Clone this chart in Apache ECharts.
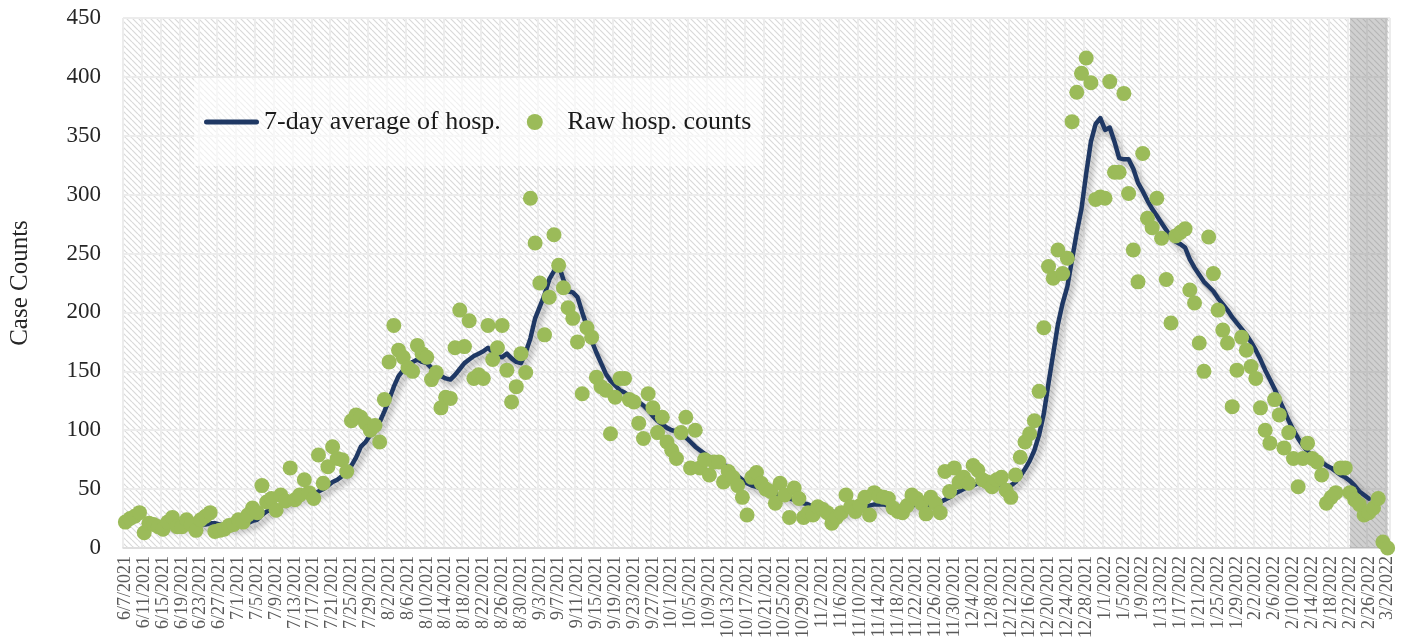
<!DOCTYPE html>
<html><head><meta charset="utf-8">
<script src="https://cdn.jsdelivr.net/npm/echarts@6/dist/echarts.min.js"></script>
<style>html,body{margin:0;padding:0;background:#fff}#c{width:1403px;height:644px}</style>
</head><body><div id="c"></div>
<script>
const categories = [
"6/7/2021","6/8/2021","6/9/2021","6/10/2021","6/11/2021","6/12/2021","6/13/2021","6/14/2021","6/15/2021","6/16/2021","6/17/2021","6/18/2021","6/19/2021","6/20/2021","6/21/2021","6/22/2021","6/23/2021","6/24/2021","6/25/2021","6/26/2021","6/27/2021","6/28/2021","6/29/2021","6/30/2021",
"7/1/2021","7/2/2021","7/3/2021","7/4/2021","7/5/2021","7/6/2021","7/7/2021","7/8/2021","7/9/2021","7/10/2021","7/11/2021","7/12/2021","7/13/2021","7/14/2021","7/15/2021","7/16/2021","7/17/2021","7/18/2021","7/19/2021","7/20/2021","7/21/2021","7/22/2021","7/23/2021","7/24/2021","7/25/2021","7/26/2021","7/27/2021","7/28/2021","7/29/2021","7/30/2021","7/31/2021",
"8/1/2021","8/2/2021","8/3/2021","8/4/2021","8/5/2021","8/6/2021","8/7/2021","8/8/2021","8/9/2021","8/10/2021","8/11/2021","8/12/2021","8/13/2021","8/14/2021","8/15/2021","8/16/2021","8/17/2021","8/18/2021","8/19/2021","8/20/2021","8/21/2021","8/22/2021","8/23/2021","8/24/2021","8/25/2021","8/26/2021","8/27/2021","8/28/2021","8/29/2021","8/30/2021","8/31/2021",
"9/1/2021","9/2/2021","9/3/2021","9/4/2021","9/5/2021","9/6/2021","9/7/2021","9/8/2021","9/9/2021","9/10/2021","9/11/2021","9/12/2021","9/13/2021","9/14/2021","9/15/2021","9/16/2021","9/17/2021","9/18/2021","9/19/2021","9/20/2021","9/21/2021","9/22/2021","9/23/2021","9/24/2021","9/25/2021","9/26/2021","9/27/2021","9/28/2021","9/29/2021","9/30/2021",
"10/1/2021","10/2/2021","10/3/2021","10/4/2021","10/5/2021","10/6/2021","10/7/2021","10/8/2021","10/9/2021","10/10/2021","10/11/2021","10/12/2021","10/13/2021","10/14/2021","10/15/2021","10/16/2021","10/17/2021","10/18/2021","10/19/2021","10/20/2021","10/21/2021","10/22/2021","10/23/2021","10/24/2021","10/25/2021","10/26/2021","10/27/2021","10/28/2021","10/29/2021","10/30/2021","10/31/2021",
"11/1/2021","11/2/2021","11/3/2021","11/4/2021","11/5/2021","11/6/2021","11/7/2021","11/8/2021","11/9/2021","11/10/2021","11/11/2021","11/12/2021","11/13/2021","11/14/2021","11/15/2021","11/16/2021","11/17/2021","11/18/2021","11/19/2021","11/20/2021","11/21/2021","11/22/2021","11/23/2021","11/24/2021","11/25/2021","11/26/2021","11/27/2021","11/28/2021","11/29/2021","11/30/2021",
"12/1/2021","12/2/2021","12/3/2021","12/4/2021","12/5/2021","12/6/2021","12/7/2021","12/8/2021","12/9/2021","12/10/2021","12/11/2021","12/12/2021","12/13/2021","12/14/2021","12/15/2021","12/16/2021","12/17/2021","12/18/2021","12/19/2021","12/20/2021","12/21/2021","12/22/2021","12/23/2021","12/24/2021","12/25/2021","12/26/2021","12/27/2021","12/28/2021","12/29/2021","12/30/2021","12/31/2021",
"1/1/2022","1/2/2022","1/3/2022","1/4/2022","1/5/2022","1/6/2022","1/7/2022","1/8/2022","1/9/2022","1/10/2022","1/11/2022","1/12/2022","1/13/2022","1/14/2022","1/15/2022","1/16/2022","1/17/2022","1/18/2022","1/19/2022","1/20/2022","1/21/2022","1/22/2022","1/23/2022","1/24/2022","1/25/2022","1/26/2022","1/27/2022","1/28/2022","1/29/2022","1/30/2022","1/31/2022",
"2/1/2022","2/2/2022","2/3/2022","2/4/2022","2/5/2022","2/6/2022","2/7/2022","2/8/2022","2/9/2022","2/10/2022","2/11/2022","2/12/2022","2/13/2022","2/14/2022","2/15/2022","2/16/2022","2/17/2022","2/18/2022","2/19/2022","2/20/2022","2/21/2022","2/22/2022","2/23/2022","2/24/2022","2/25/2022","2/26/2022","2/27/2022","2/28/2022",
"3/1/2022","3/2/2022"
];

const rawCounts = [
22,25,27,30,13,21,20,18,16,22,
26,18,18,24,20,15,24,27,30,14,
15,16,19,20,24,22,28,34,30,53,
39,42,32,45,40,68,41,45,58,47,
42,79,55,69,86,76,75,65,108,113,
111,106,100,104,90,126,158,189,168,162,
153,150,172,165,162,143,149,119,128,127,
170,202,171,193,144,147,144,189,160,170,
189,151,124,137,165,149,297,259,225,181,
213,266,240,221,204,195,175,131,187,179,
145,137,134,97,128,144,144,126,124,106,
93,131,119,98,111,90,83,76,98,111,
68,100,68,75,62,73,73,56,65,60,
53,43,28,60,64,55,50,48,38,55,
45,26,51,42,26,30,28,35,33,30,
21,26,30,45,35,31,36,43,28,47,
44,43,42,34,31,30,36,45,42,38,
29,43,38,30,65,48,68,56,60,55,
70,66,58,56,52,58,60,49,43,62,
77,90,97,108,133,187,239,229,253,233,
246,362,387,403,416,395,296,298,297,396,
319,319,386,301,253,226,335,280,272,297,
263,228,191,265,268,271,219,208,174,150,
264,233,202,185,174,120,151,179,168,154,
144,119,100,89,126,113,85,98,76,52,
76,89,76,73,62,38,43,47,68,68,
47,41,37,28,30,34,42,5,0
];

const avg7 = [
null,null,null,null,null,null,22,21,20,20,
20,20,19,20,20,19,20,20,21,21,
20,19,19,18,19,20,21,23,24,28,
31,33,35,36,38,41,42,43,45,46,
46,48,50,53,56,58,61,64,70,77,
86,90,96,101,107,116,126,137,146,151,
155,158,160,158,157,153,149,146,144,143,
147,152,157,160,163,165,167,170,166,163,
162,165,161,158,157,166,178,195,205,215,
228,235,240,228,218,217,213,200,188,176,
166,157,148,142,138,134,132,129,127,124,
121,117,112,108,105,102,100,99,98,94,
90,86,83,80,77,75,73,71,68,65,
61,58,55,53,52,50,49,47,46,45,
44,42,41,39,38,37,35,34,33,32,
31,30,30,31,32,33,34,35,36,37,
37,37,36,36,35,35,36,36,37,36,
36,36,37,39,41,43,46,48,50,52,
53,55,56,56,55,54,53,52,53,56,
61,67,74,83,96,114,140,165,190,208,
222,245,268,288,318,345,360,365,355,357,
345,331,330,330,322,310,303,295,288,282,
276,270,264,260,258,255,245,238,232,226,
222,218,212,207,202,196,191,186,181,175,
168,160,151,143,135,126,117,108,100,93,
87,82,78,76,73,70,68,65,62,60,
57,53,48,45,42,null,null,null,null
];

const seriesNames = ['7-day average of hosp.', 'Raw hosp. counts'];
const yAxisName = 'Case Counts';
const shadeRange = ['2/22/2022', '3/2/2022'];

const FONT = '"Liberation Serif", "DejaVu Serif", serif';

function hatchPattern() {
  const s = 6;
  const c = document.createElement('canvas');
  c.width = s; c.height = s;
  const ctx = c.getContext('2d');
  ctx.fillStyle = '#ffffff';
  ctx.fillRect(0, 0, s, s);
  ctx.strokeStyle = '#d9d9d9';
  ctx.lineWidth = 1.2;
  ctx.beginPath();
  for (const k of [-s, 0, s]) { ctx.moveTo(k, 0); ctx.lineTo(k + s, s); }
  ctx.stroke();
  return c;
}

const lineIcon = 'path://M2.5,0 H52.5 A2.5,2.5 0 0 1 52.5,5 H2.5 A2.5,2.5 0 0 1 2.5,0 Z';

const chart = echarts.init(document.getElementById('c'), null, {renderer: 'canvas'});
chart.setOption({
  animation: false,
  textStyle: {fontFamily: FONT},
  grid: {left: 122, right: 13, top: 18, bottom: 96, show: true, borderWidth: 0,
         backgroundColor: {image: hatchPattern(), repeat: 'repeat'}},
  legend: {
    left: 194, top: 78, padding: [31, 10, 31, 10],
    backgroundColor: 'rgba(255,255,255,0.6)',
    itemWidth: 55, itemHeight: 16, itemGap: 26, symbolKeepAspect: true,
    textStyle: {fontSize: 26, color: '#1a1a1a', fontFamily: FONT},
    data: [{name: seriesNames[0], icon: lineIcon, itemStyle: {color: '#1F3864'}},
           {name: seriesNames[1], icon: 'circle'}]
  },
  xAxis: {
    type: 'category', data: categories, boundaryGap: true,
    axisLine: {lineStyle: {color: '#d9d9d9', width: 1.5}},
    axisTick: {show: false},
    axisLabel: {interval: 3, rotate: 90, color: '#595959', fontSize: 18, margin: 8, fontFamily: FONT},
    splitLine: {show: true, interval: 3, lineStyle: {color: '#ececec', width: 2}}
  },
  yAxis: {
    type: 'value', min: 0, max: 450, interval: 50,
    name: yAxisName, nameLocation: 'middle', nameGap: 90, nameRotate: 90,
    nameTextStyle: {fontSize: 25, color: '#262626', fontFamily: FONT},
    axisLabel: {fontSize: 23, color: '#262626', margin: 22, fontFamily: FONT},
    axisLine: {show: false}, axisTick: {show: false},
    splitLine: {lineStyle: {color: '#ececec', width: 2}}
  },
  series: [
    {name: seriesNames[0], type: 'line', data: avg7, symbol: 'none', z: 3,
     lineStyle: {color: '#1F3864', width: 4.5, cap: 'round', join: 'round',
                 shadowColor: 'rgba(0,0,0,0.35)', shadowBlur: 6, shadowOffsetX: 3, shadowOffsetY: 4},
     itemStyle: {color: '#1F3864'}},
    {name: seriesNames[1], type: 'scatter', data: rawCounts, symbolSize: 15, z: 4,
     itemStyle: {color: '#9BBB59', opacity: 1}},
    {type: 'line', data: [], z: 10, silent: true,
     markArea: {silent: true, itemStyle: {color: 'rgba(110,110,110,0.32)'},
                data: [[{xAxis: shadeRange[0]}, {xAxis: shadeRange[1]}]]}}
  ]
});
</script>
</body></html>
